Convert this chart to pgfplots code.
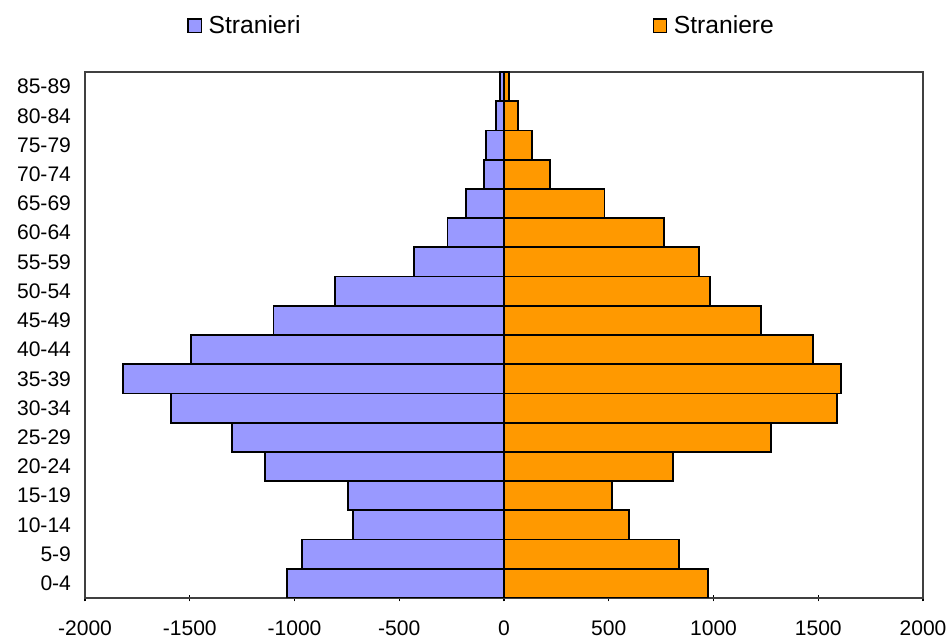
\documentclass[border=0pt]{standalone}
\usepackage{pgfplots}
\pgfplotsset{compat=1.18}
\usepackage{fontspec}
\setmainfont{Liberation Sans}
\definecolor{mblue}{HTML}{9999FF}
\definecolor{forange}{HTML}{FF9900}
\pgfplotstableread{
y m f
0 -1035 975
1 -965 835
2 -720 595
3 -745 515
4 -1140 805
5 -1300 1275
6 -1590 1590
7 -1820 1610
8 -1495 1475
9 -1100 1225
10 -805 985
11 -430 930
12 -270 765
13 -180 480
14 -95 220
15 -85 135
16 -40 65
17 -20 25
}\pyr
\begin{document}
\begin{tikzpicture}
\begin{axis}[
  scale only axis, width=628.5pt, height=394.5pt,
  xmin=-2000, xmax=2000, ymin=-0.5, ymax=17.5,
  xtick={-2000,-1500,...,2000},
  xtick pos=bottom,
  tick align=center, major tick length=5pt,
  x tick style={black, line width=1pt},
  ytick={0,...,17},
  yticklabels={0-4,5-9,10-14,15-19,20-24,25-29,30-34,35-39,40-44,45-49,50-54,55-59,60-64,65-69,70-74,75-79,80-84,85-89},
  y tick style={draw=none},
  ticklabel style={font=\fontsize{15.8}{18}\selectfont},
  yticklabel style={anchor=east, xshift=-2pt},
  xticklabel style={anchor=north, yshift=-11pt},
  /pgf/number format/assume math mode=true,
  /pgf/number format/1000 sep={},
  axis line style={draw=black!75, line width=1pt},
  xbar, bar width=1,
  legend style={at={(0.117,1.088)}, anchor=west, draw=none, fill=none,
    font=\fontsize{18.5}{22}\selectfont,
    /tikz/every odd column/.append style={column sep=3pt},
    /tikz/every even column/.append style={column sep=262pt}},
  legend columns=2,
  legend image code/.code={\draw[#1,line width=1pt] (0pt,-5pt) rectangle (10pt,5pt);},
]
\addplot[xbar, bar shift=0pt, fill=mblue, draw=black, line width=1.4pt] table[x=m,y=y]{\pyr};
\addlegendentry{Stranieri}
\addplot[xbar, bar shift=0pt, fill=forange, draw=black, line width=1.4pt] table[x=f,y=y]{\pyr};
\addlegendentry{Straniere}
\end{axis}
\pgfresetboundingbox
\path ([xshift=-63.75pt,yshift=-32.25pt]current axis.south west) rectangle ([xshift=18.75pt,yshift=54pt]current axis.north east);
\end{tikzpicture}
\end{document}
